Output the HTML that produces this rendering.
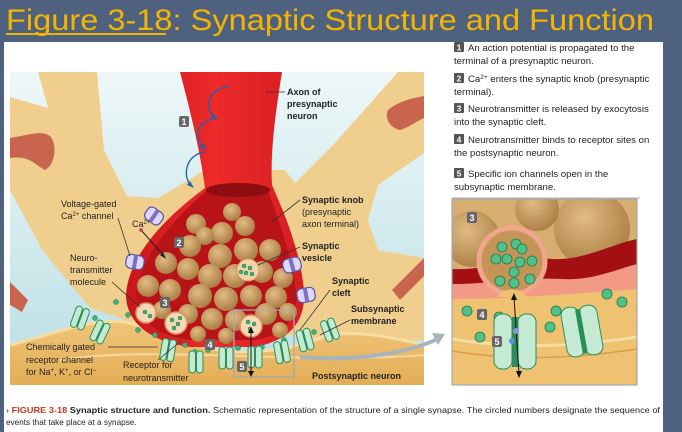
<!DOCTYPE html>
<html><head><meta charset="utf-8"><style>
html,body{margin:0;padding:0;background:#4e6280;}
svg{display:block}
text{font-family:"Liberation Sans",sans-serif;}
</style></head><body>
<svg width="682" height="432" viewBox="0 0 682 432" xmlns="http://www.w3.org/2000/svg">
<defs>
<linearGradient id="sky" x1="0" y1="0" x2="0" y2="1"><stop offset="0" stop-color="#eef7f8"/><stop offset="1" stop-color="#b9dfe4"/></linearGradient>
<radialGradient id="ves" cx="0.4" cy="0.35" r="0.7"><stop offset="0" stop-color="#e2bd84"/><stop offset="1" stop-color="#a67840"/></radialGradient>
<linearGradient id="axon" x1="0" y1="0" x2="1" y2="0"><stop offset="0" stop-color="#c8161c"/><stop offset="0.5" stop-color="#ee2a2a"/><stop offset="1" stop-color="#d41d22"/></linearGradient>
<linearGradient id="post" x1="0" y1="0" x2="0" y2="1"><stop offset="0" stop-color="#f0c57a"/><stop offset="1" stop-color="#e3ad55"/></linearGradient>
<g id="gch"><rect x="-7" y="-11" width="6.5" height="22" rx="3" fill="#c5ead4" stroke="#2a8f57" stroke-width="1"/><rect x="0.5" y="-11" width="6.5" height="22" rx="3" fill="#c5ead4" stroke="#2a8f57" stroke-width="1"/><rect x="-1" y="-9" width="2" height="18" fill="#2a8f57"/></g>
<g id="pch"><rect x="-9" y="-7" width="18" height="14" rx="5" fill="#dcd8f6" stroke="#5b4fa8" stroke-width="1.2"/><rect x="-2" y="-7" width="4" height="14" fill="#7b6fc4"/></g>
</defs>
<rect width="682" height="432" fill="#4e6280"/>
<text x="6" y="30" font-size="30" fill="#f5b400" textLength="648" lengthAdjust="spacingAndGlyphs">Figure 3-18: Synaptic Structure and Function</text>
<line x1="6" y1="34" x2="166" y2="34" stroke="#f5b400" stroke-width="2"/>
<rect x="4" y="42" width="659" height="390" fill="#ffffff"/>
<rect x="10" y="72" width="414" height="313" fill="url(#sky)"/>
<g fill="#f0cf8e">
<polygon points="38,72 97,72 104,150 127,196 190,200 170,335 90,308 42,250 10,190 10,97 48,108"/>
<polygon points="398,72 424,72 424,153 378,185 368,220 378,250 424,258 424,340 300,340 281,197 308,170 335,143"/>
<polygon points="155,200 205,170 285,170 315,210 305,335 140,335"/>
</g>
<g fill="#c9654f">
<path d="M10,138 C30,135 40,130 50,136 C58,145 55,165 45,170 C35,165 30,155 10,158Z"/>
<path d="M388,110 C400,100 415,98 424,96 L424,118 C415,122 408,128 400,130 C390,128 384,118 388,110Z"/>
<path d="M10,282 L28,300 L22,312 L10,305Z"/>
<path d="M392,290 L424,258 L424,276 L400,300Z"/>
</g>
<path d="M10,345 C50,335 90,318 125,322 C160,330 200,352 240,352 C280,352 300,345 330,335 C360,330 395,338 424,345 L424,385 L10,385Z" fill="url(#post)"/>
<path d="M10,345 C50,335 90,318 125,322 C160,330 200,352 240,352 C280,352 300,345 330,335 C360,330 395,338 424,345" fill="none" stroke="#f7dca4" stroke-width="3"/>
<path d="M60,360 C150,345 300,365 424,355" fill="none" stroke="#f6d89c" stroke-width="2"/>
<path d="M180,72 L282,72 C276,110 270,150 272,185 C285,215 300,250 304,290 C306,322 290,340 255,347 L190,347 C150,342 126,322 126,295 C128,262 155,225 205,188 C200,150 190,110 180,72Z" fill="url(#axon)"/>
<path d="M207,190 C170,222 138,262 136,295 C136,320 160,338 192,340 L255,340 C285,335 298,318 296,292 C292,255 280,225 268,190Z" fill="#b81418"/>
<ellipse cx="238" cy="190" rx="32" ry="7" fill="#8e0d10"/>
<g fill="url(#ves)">
<circle cx="196" cy="224" r="10"/><circle cx="222" cy="233" r="11"/><circle cx="245" cy="226" r="10"/><circle cx="232" cy="212" r="9"/>
<circle cx="190" cy="246" r="11"/><circle cx="205" cy="236" r="9"/><circle cx="220" cy="256" r="12"/><circle cx="246" cy="250" r="12"/><circle cx="270" cy="250" r="11"/>
<circle cx="166" cy="263" r="11"/><circle cx="188" cy="269" r="11"/><circle cx="210" cy="276" r="12"/><circle cx="235" cy="276" r="12"/><circle cx="262" cy="272" r="11"/><circle cx="283" cy="278" r="10"/>
<circle cx="148" cy="286" r="11"/><circle cx="170" cy="290" r="11"/><circle cx="200" cy="296" r="12"/><circle cx="226" cy="299" r="12"/><circle cx="251" cy="296" r="11"/><circle cx="276" cy="297" r="11"/>
<circle cx="162" cy="310" r="9"/><circle cx="188" cy="314" r="10"/><circle cx="212" cy="319" r="11"/><circle cx="236" cy="320" r="11"/><circle cx="266" cy="314" r="11"/><circle cx="288" cy="312" r="9"/>
<circle cx="198" cy="334" r="8"/><circle cx="226" cy="336" r="8"/><circle cx="280" cy="330" r="8"/>
</g>
<circle cx="248" cy="270" r="11" fill="#f3d4a8" stroke="#d79a6a"/>
<g fill="#f5d9b4" stroke="#e0906a" stroke-width="1.5">
<circle cx="146" cy="313" r="10"/><circle cx="176" cy="323" r="11"/><circle cx="251" cy="326" r="11"/>
</g>
<g fill="#3fb377" stroke="#1d7a4a" stroke-width="0.5">
<circle cx="244" cy="266" r="2"/><circle cx="250" cy="268" r="2"/><circle cx="246" cy="273" r="2"/><circle cx="252" cy="274" r="2"/><circle cx="241" cy="272" r="2"/>
<circle cx="145" cy="312" r="2"/><circle cx="150" cy="316" r="2"/><circle cx="172" cy="320" r="2"/><circle cx="178" cy="324" r="2"/><circle cx="174" cy="328" r="2"/><circle cx="180" cy="318" r="2"/>
<circle cx="248" cy="322" r="2"/><circle cx="254" cy="324" r="2"/><circle cx="250" cy="329" r="2"/>
<circle cx="116" cy="302" r="2.5"/><circle cx="128" cy="315" r="2.5"/><circle cx="138" cy="330" r="2.5"/><circle cx="155" cy="335" r="2.5"/><circle cx="170" cy="342" r="2.5"/><circle cx="185" cy="345" r="2.5"/><circle cx="195" cy="352" r="2.5"/><circle cx="208" cy="350" r="2.5"/><circle cx="238" cy="348" r="2.5"/><circle cx="262" cy="347" r="2.5"/><circle cx="284" cy="340" r="2.5"/><circle cx="314" cy="332" r="2.5"/><circle cx="95" cy="318" r="2.5"/>
</g>
<use href="#gch" transform="translate(80,318) rotate(20)"/>
<use href="#gch" transform="translate(100,332) rotate(25)"/>
<use href="#gch" transform="translate(168,350) rotate(10)"/>
<use href="#gch" transform="translate(196,362)"/>
<use href="#gch" transform="translate(226,358)"/>
<use href="#gch" transform="translate(255,357)"/>
<use href="#gch" transform="translate(282,352) rotate(-10)"/>
<use href="#gch" transform="translate(305,340) rotate(-15)"/>
<use href="#gch" transform="translate(330,330) rotate(-20)"/>
<use href="#pch" transform="translate(154,216) rotate(35)"/>
<use href="#pch" transform="translate(135,262) rotate(10)"/>
<use href="#pch" transform="translate(292,265) rotate(-15)"/>
<use href="#pch" transform="translate(306,295) rotate(-10)"/>
<g fill="none" stroke="#1a62b5" stroke-width="1.3">
<path d="M229,86 C205,90 205,110 215,118"/><path d="M218,118 C195,120 193,140 205,148"/><path d="M205,152 C183,155 183,180 192,186"/>
</g>
<g fill="#1a62b5"><polygon points="217,120 211,117 213,113"/><polygon points="207,150 200,147 203,143"/><polygon points="194,188 187,185 190,181"/></g>
<line x1="141" y1="230" x2="165" y2="257" stroke="#222" stroke-width="1"/>
<polygon points="166,259 160,255 163,252" fill="#222"/>
<circle cx="141" cy="230" r="1.8" fill="#d0334a"/>
<rect x="234" y="310" width="60" height="67" fill="none" stroke="#a3a9b0" stroke-width="1.3"/>
<line x1="251" y1="330" x2="251" y2="374" stroke="#111" stroke-width="1"/>
<polygon points="251,327 248,333 254,333" fill="#111"/><polygon points="251,377 248,371 254,371" fill="#111"/>
<path d="M300,357 C360,362 410,352 440,338" fill="none" stroke="#a9b3bd" stroke-width="4"/>
<polygon points="445,334 432,333 438,345" fill="#a9b3bd"/>
<g stroke="#333" stroke-width="0.8" fill="none">
<line x1="266" y1="92" x2="285" y2="92"/>
<line x1="300" y1="200" x2="272" y2="222"/>
<line x1="300" y1="247" x2="258" y2="265"/>
<line x1="330" y1="290" x2="300" y2="330"/>
<line x1="350" y1="320" x2="320" y2="335"/>
<line x1="118" y1="218" x2="130" y2="256"/>
<line x1="112" y1="282" x2="140" y2="307"/>
<line x1="108" y1="347" x2="158" y2="347"/>
<line x1="158" y1="360" x2="182" y2="340"/>
</g>
<g font-size="9" font-weight="bold" fill="#fff" text-anchor="middle">
<rect x="179" y="116" width="10" height="11" rx="2" fill="#666"/><text x="184" y="125">1</text>
<rect x="174" y="237" width="10" height="11" rx="2" fill="#666"/><text x="179" y="246">2</text>
<rect x="160" y="297" width="10" height="11" rx="2" fill="#666"/><text x="165" y="306">3</text>
<rect x="205" y="339" width="10" height="11" rx="2" fill="#666"/><text x="210" y="348">4</text>
<rect x="237" y="361" width="10" height="11" rx="2" fill="#666"/><text x="242" y="370">5</text>
</g>
<g font-size="9" fill="#222">
<g font-weight="bold"><text x="287" y="95">Axon of</text><text x="287" y="107">presynaptic</text><text x="287" y="119">neuron</text>
<text x="302" y="203">Synaptic knob</text>
<text x="302" y="249">Synaptic</text><text x="302" y="261">vesicle</text>
<text x="332" y="284">Synaptic</text><text x="332" y="296">cleft</text>
<text x="351" y="312">Subsynaptic</text><text x="351" y="324">membrane</text>
<text x="312" y="379">Postsynaptic neuron</text></g>
<text x="302" y="215">(presynaptic</text><text x="302" y="227">axon terminal)</text>
<text x="61" y="207">Voltage-gated</text><text x="61" y="219">Ca<tspan font-size="6" dy="-3">2+</tspan><tspan dy="3"> channel</tspan></text>
<text x="132" y="227">Ca<tspan font-size="6" dy="-3">2+</tspan></text>
<text x="70" y="261">Neuro-</text><text x="70" y="273">transmitter</text><text x="70" y="285">molecule</text>
<text x="26" y="350">Chemically gated</text><text x="26" y="363">receptor channel</text><text x="26" y="375">for Na<tspan font-size="6" dy="-3">+</tspan><tspan dy="3">, K</tspan><tspan font-size="6" dy="-3">+</tspan><tspan dy="3">, or Cl</tspan><tspan font-size="6" dy="-3">−</tspan></text>
<text x="123" y="368">Receptor for</text><text x="123" y="381">neurotransmitter</text>
</g>
<svg x="452" y="199" width="185" height="186" viewBox="0 0 185 186">
<rect width="185" height="186" fill="#d7ae72"/>
<g fill="url(#ves)" opacity="0.9"><circle cx="20" cy="40" r="28"/><circle cx="140" cy="30" r="38"/><circle cx="85" cy="10" r="22"/><circle cx="180" cy="70" r="20"/></g>
<path d="M0,70 C40,72 60,55 100,60 C130,62 160,45 185,40 L185,100 L0,100Z" fill="#a30f12"/>
<path d="M0,85 C40,85 70,78 110,80 C140,82 165,70 185,65 L185,110 L0,110Z" fill="#f39a86"/>
<path d="M0,100 C50,100 120,95 185,90 L185,186 L0,186Z" fill="#eec270"/>
<path d="M0,140 C60,150 120,148 185,138" fill="none" stroke="#f7dca4" stroke-width="3"/>
<path d="M0,152 C60,162 120,160 185,150" fill="none" stroke="#d79d48" stroke-width="1.5"/>
<circle cx="60" cy="62" r="33" fill="#c59558" stroke="#f2a58d" stroke-width="5"/>
<path d="M45,98 C50,88 70,88 75,98Z" fill="#eec270"/>
<g fill="#52c08a" stroke="#1d7a4a" stroke-width="0.8">
<circle cx="50" cy="48" r="5"/><circle cx="64" cy="45" r="5"/><circle cx="70" cy="50" r="5"/><circle cx="44" cy="60" r="5"/><circle cx="55" cy="60" r="5"/><circle cx="68" cy="63" r="5"/><circle cx="62" cy="73" r="5"/><circle cx="80" cy="62" r="5"/><circle cx="48" cy="82" r="5"/><circle cx="62" cy="84" r="5"/><circle cx="78" cy="80" r="5"/>
<circle cx="15" cy="112" r="5"/><circle cx="28" cy="138" r="5"/><circle cx="47" cy="118" r="5"/><circle cx="104" cy="112" r="5"/><circle cx="98" cy="128" r="5"/><circle cx="155" cy="95" r="5"/><circle cx="170" cy="103" r="5"/>
</g>
<g fill="#c5ead4" stroke="#2a8f57" stroke-width="1">
<rect x="42" y="115" width="18" height="55" rx="8"/><rect x="66" y="115" width="18" height="55" rx="8"/>
<rect x="112" y="108" width="18" height="50" rx="8" transform="rotate(-10 121 133)"/><rect x="130" y="106" width="18" height="50" rx="8" transform="rotate(-10 139 131)"/>
</g>
<rect x="60" y="118" width="6" height="50" fill="#2a8f57"/>
<rect x="127" y="110" width="5" height="45" fill="#2a8f57" transform="rotate(-10 129 133)"/>
<line x1="62" y1="98" x2="67" y2="175" stroke="#111" stroke-width="1"/>
<polygon points="62,94 59,101 65,101" fill="#111"/><polygon points="67,179 64,172 70,172" fill="#111"/>
<circle cx="64" cy="132" r="3" fill="#9a8ce0"/><circle cx="60" cy="142" r="3" fill="#5b8fe0"/>
<g font-size="9" font-weight="bold" fill="#fff" text-anchor="middle">
<rect x="15" y="13" width="10" height="11" rx="2" fill="#666"/><text x="20" y="22">3</text>
<rect x="25" y="110" width="10" height="11" rx="2" fill="#666"/><text x="30" y="119">4</text>
<rect x="40" y="137" width="10" height="11" rx="2" fill="#666"/><text x="45" y="146">5</text>
</g>
</svg>
<rect x="452" y="199" width="185" height="186" fill="none" stroke="#a3a9b0" stroke-width="1.2"/>
<g font-size="9.6" fill="#222">
<g fill="#555"><rect x="454" y="42" width="10" height="10" rx="1"/><rect x="454" y="73" width="10" height="10" rx="1"/><rect x="454" y="103" width="10" height="10" rx="1"/><rect x="454" y="134" width="10" height="10" rx="1"/><rect x="454" y="168" width="10" height="10" rx="1"/></g>
<g fill="#fff" font-size="8.5" font-weight="bold" text-anchor="middle"><text x="459" y="50.5">1</text><text x="459" y="81.5">2</text><text x="459" y="111.5">3</text><text x="459" y="142.5">4</text><text x="459" y="176.5">5</text></g>
<text x="468" y="51">An action potential is propagated to the</text>
<text x="454" y="64">terminal of a presynaptic neuron.</text>
<text x="468" y="82">Ca<tspan font-size="6.5" dy="-3">2+</tspan><tspan dy="3"> enters the synaptic knob (presynaptic</tspan></text>
<text x="454" y="95">terminal).</text>
<text x="468" y="112">Neurotransmitter is released by exocytosis</text>
<text x="454" y="125">into the synaptic cleft.</text>
<text x="468" y="143">Neurotransmitter binds to receptor sites on</text>
<text x="454" y="156">the postsynaptic neuron.</text>
<text x="468" y="177">Specific ion channels open in the</text>
<text x="454" y="190">subsynaptic membrane.</text>
</g>
<line x1="452" y1="198" x2="640" y2="198" stroke="#999" stroke-width="0.8"/>
<g font-size="8.2" fill="#222">
<text x="6" y="413" textLength="654" lengthAdjust="spacingAndGlyphs"><tspan fill="#c8351e" font-weight="bold">› FIGURE 3-18</tspan>  <tspan font-weight="bold">Synaptic structure and function.</tspan> Schematic representation of the structure of a single synapse. The circled numbers designate the sequence of</text>
<text x="6" y="425">events that take place at a synapse.</text>
</g>
<rect x="663" y="42" width="19" height="390" fill="#4e6280"/>
</svg>
</body></html>
